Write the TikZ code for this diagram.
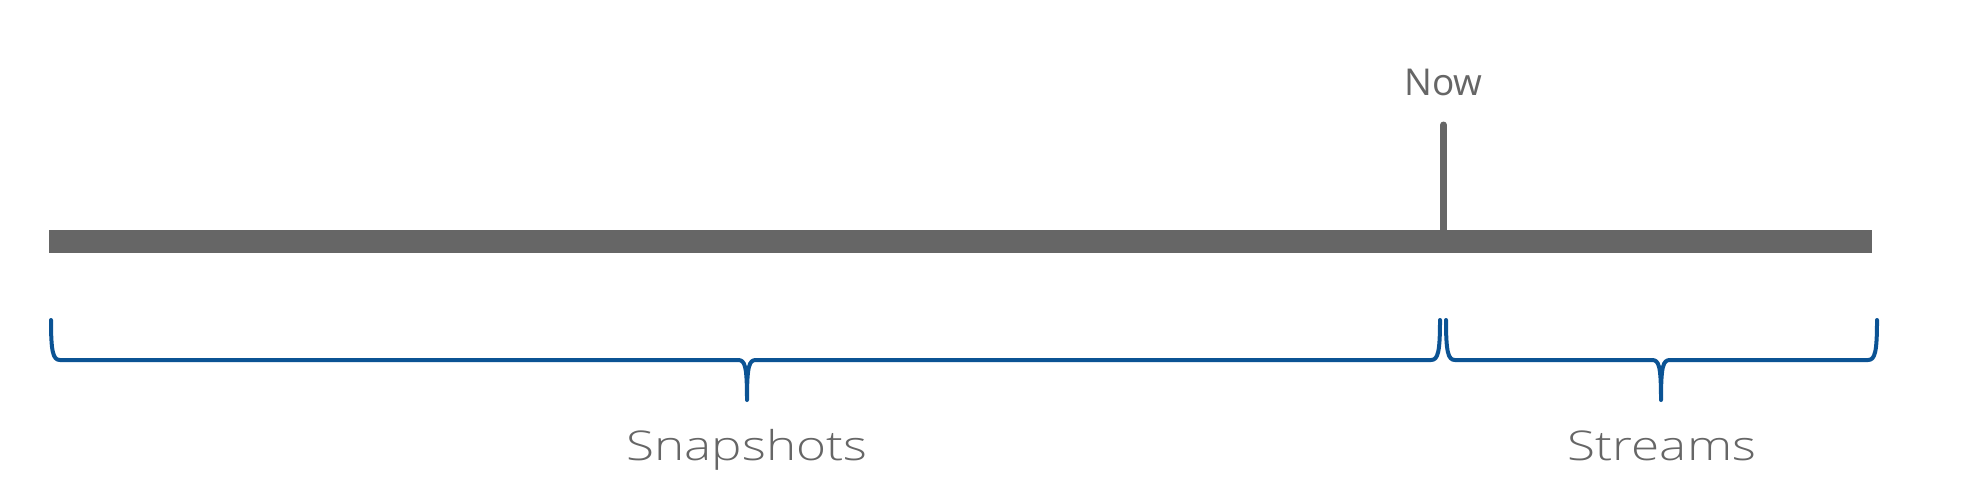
\documentclass[tikz,border=0pt]{standalone}
\usepackage{fontspec}
\setmainfont{Open Sans}
\newfontfamily\lightfont[FakeStretch=1.25]{Open Sans Light}
\definecolor{bargray}{HTML}{666666}
\definecolor{braceblue}{HTML}{0B5394}
\begin{document}
\begin{tikzpicture}[x=1pt,y=-1pt,
  bracepath/.style={draw=braceblue,line width=4pt,line cap=round,line join=round},
  lbl/.style={text=bargray,font=\lightfont\fontsize{41}{41}\selectfont,anchor=base,inner sep=0pt},
  nowlbl/.style={text=bargray,font=\fontsize{37}{37}\selectfont,anchor=base,inner sep=0pt}]
\useasboundingbox (0,0) rectangle (1972,495);
% timeline bar
\fill[bargray] (49,230) rectangle (1872,253);
% now tick
\coordinate (tickTop) at (1443.5,125);
\coordinate (tickBot) at (1443.5,231);
\draw[bargray,line width=7pt,line cap=round] (tickTop) -- (tickBot);
\node[nowlbl] (now) at (1443.5,95) {Now};
% braces
\def\bracefrom#1#2#3{%
  \draw[bracepath] (#1,320) .. controls (#1,352) and (#1+2,360) .. (#1+9,360)
    -- (#3-9,360) .. controls (#3-2,360) and (#3,366) .. (#3,400)
    .. controls (#3,366) and (#3+2,360) .. (#3+9,360)
    -- (#2-9,360) .. controls (#2-2,360) and (#2,352) .. (#2,320);}
\bracefrom{51}{1440}{747}
\bracefrom{1446}{1877}{1661}
\node[lbl] (snap) at (747,460) {Snapshots};
\node[lbl] (streams) at (1662,460) {Streams};
\end{tikzpicture}
\end{document}
